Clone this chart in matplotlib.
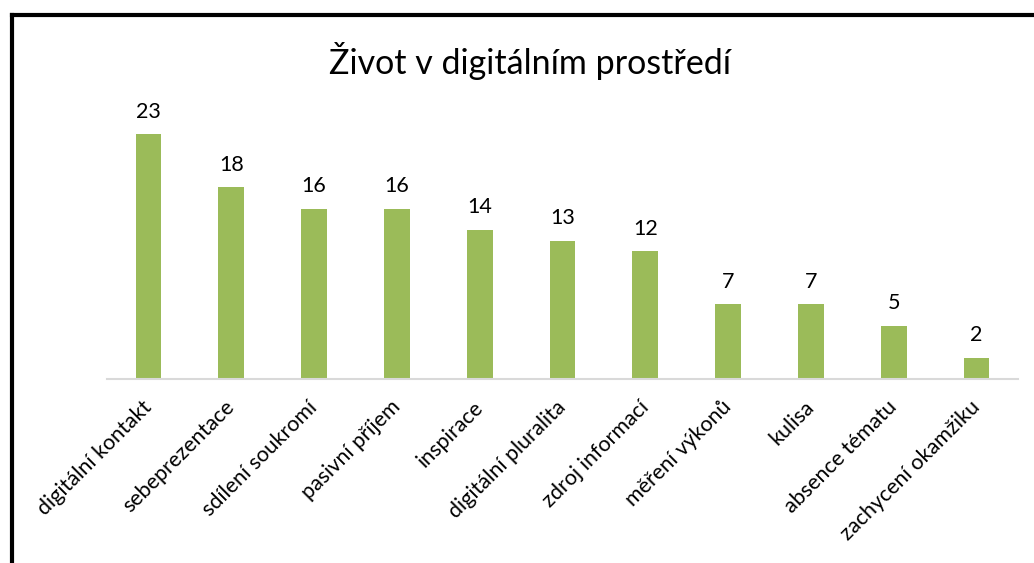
import matplotlib.pyplot as plt
from matplotlib.lines import Line2D

categories = ["digitální kontakt", "sebeprezentace", "sdílení soukromí", "pasivní příjem",
              "inspirace", "digitální pluralita", "zdroj informací", "měření výkonů",
              "kulisa", "absence tématu", "zachycení okamžiku"]
values = [23, 18, 16, 16, 14, 13, 12, 7, 7, 5, 2]

plt.rcParams['font.family'] = ['Lato', 'DejaVu Sans']

fig = plt.figure(figsize=(10.34, 5.63), dpi=100)
ax = fig.add_axes([0.1035, 0.3268, 0.881, 0.473])

bars = ax.bar(range(len(values)), values, width=0.31, color='#9bbb59')
ax.bar_label(bars, labels=[str(v) for v in values], padding=9, fontsize=15.5)

ax.set_xlim(-0.5, len(values) - 0.5)
ax.set_ylim(0, 25)
ax.set_yticks([])
for s in ['top', 'right', 'left']:
    ax.spines[s].set_visible(False)
ax.spines['bottom'].set_color('#d9d9d9')
ax.spines['bottom'].set_linewidth(1.5)

ax.set_xticks(range(len(values)))
ax.set_xticklabels(categories, rotation=45, ha='right', va='center',
                   rotation_mode='anchor', fontsize=15.5)
ax.tick_params(axis='x', length=0, pad=18)

fig.text(0.513, 0.892, "Život v digitálním prostředí", ha='center', va='center', fontsize=24.5)

# black frame (left and top edges visible)
fig.add_artist(Line2D([0.0116, 1.0], [0.9734, 0.9734], color='black', lw=3, transform=fig.transFigure))
fig.add_artist(Line2D([0.0116, 0.0116], [0.0, 0.9734], color='black', lw=3, transform=fig.transFigure))

fig.savefig('out.png', dpi=100)
